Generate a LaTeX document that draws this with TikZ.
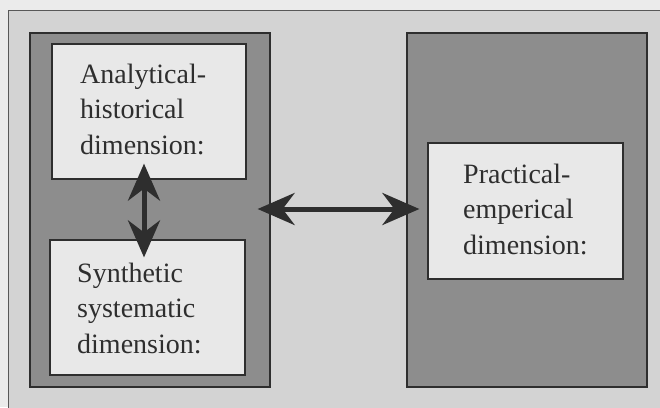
\documentclass[tikz,border=0pt]{standalone}
\usepackage{fontspec}
\setmainfont{Liberation Serif}
\usetikzlibrary{arrows.meta}
\definecolor{outside}{HTML}{EBEBEB}
\definecolor{bgfill}{HTML}{D3D3D3}
\definecolor{panelfill}{HTML}{8D8D8D}
\definecolor{boxfill}{HTML}{E8E8E8}
\definecolor{ink}{HTML}{2E2E2E}
\tikzset{
  panel/.style={draw=ink, line width=1.2pt, fill=panelfill, minimum width=240pt, minimum height=354pt, inner sep=0pt},
  dimbox/.style={draw=ink, line width=1.2pt, fill=boxfill, inner sep=0pt},
  dimtext/.style={anchor=base west, inner sep=0pt, text width=180pt, align=left, text=ink,
    font=\fontsize{28pt}{35.5pt}\selectfont},
  dblarrow/.style={draw=ink, line width=5pt,
    {Stealth[length=37pt, width=32pt, inset=12pt]}-{Stealth[length=37pt, width=32pt, inset=12pt]}},
}
\begin{document}
\begin{tikzpicture}[x=1pt, y=-1pt]
\useasboundingbox (0,0) rectangle (660,407);
\fill[outside] (0,0) rectangle (660,407);
\fill[bgfill] (8,10) rectangle (662,409);
\draw[ink!80, line width=1pt] (8,409) -- (8,10) -- (662,10);
% panels
\node[panel] (lp) at (150,210) {};
\node[panel] (rp) at (527,210) {};
% inner boxes
\node[dimbox, minimum width=194pt, minimum height=135pt] (ta) at (149,111.5) {};
\node[dimbox, minimum width=195pt, minimum height=135pt] (sb) at (147.5,307.5) {};
\node[dimbox, minimum width=195pt, minimum height=136pt] (pe) at (525.5,211) {};
% texts
\node[dimtext] (tat) at (80,83) {Analytical-\\historical\\dimension:};
\node[dimtext] (sbt) at (77,282) {Synthetic\\systematic\\dimension:};
\node[dimtext] (pet) at (463,183) {Practical-\\emperical\\dimension:};
% arrows
\draw[dblarrow] ([shift={(-5,-16)}]ta.south) -- ([shift={(-3.5,18)}]sb.north);
\draw[dblarrow] ([shift={(-13,-1)}]lp.east) -- ([shift={(13,-1)}]rp.west);
\end{tikzpicture}
\end{document}
